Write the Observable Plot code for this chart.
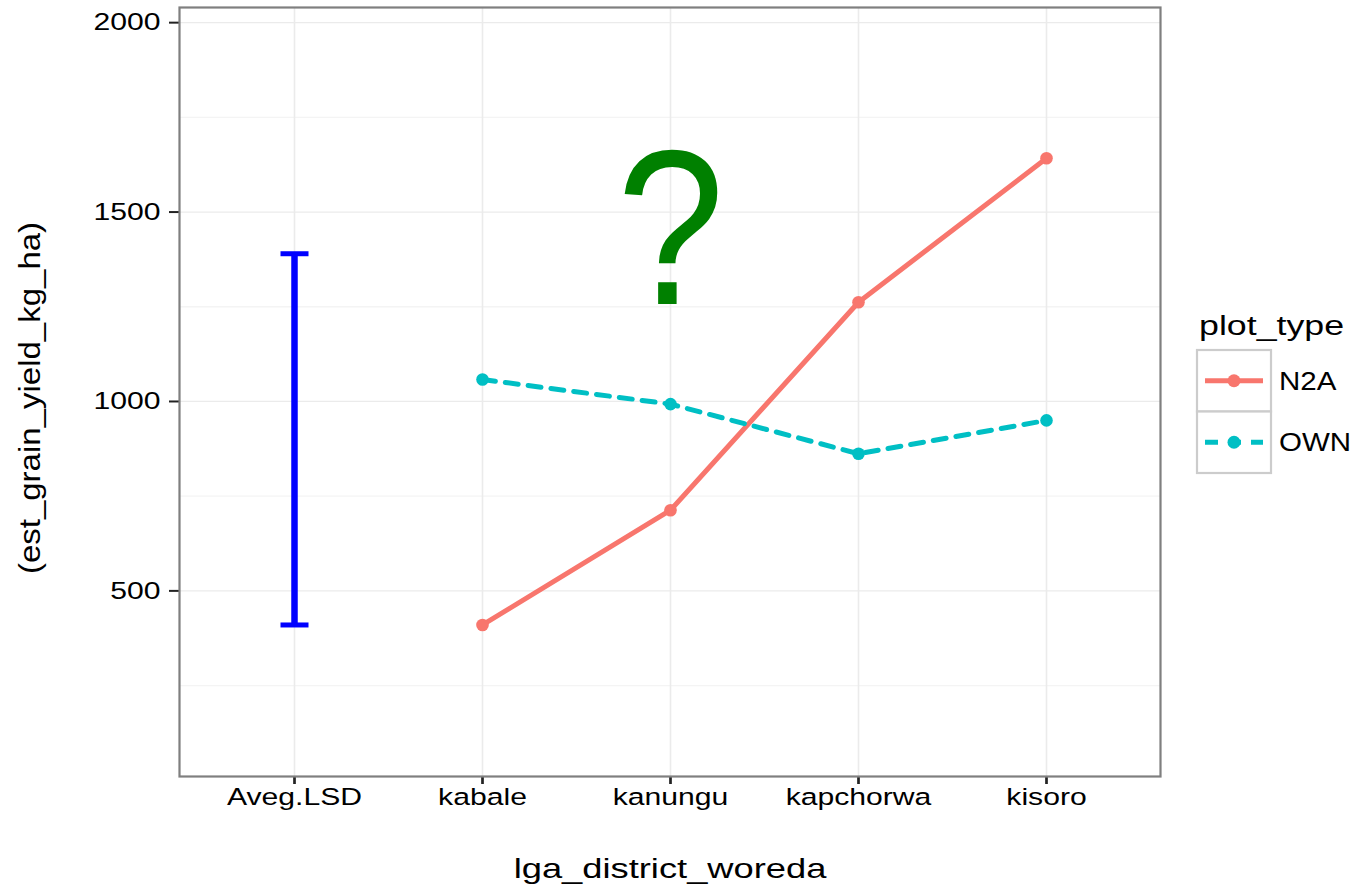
<!DOCTYPE html>
<html>
<head>
<meta charset="utf-8">
<script src="https://cdn.jsdelivr.net/npm/d3@7"></script>
<script src="https://cdn.jsdelivr.net/npm/@observablehq/plot@0.6"></script>
<style>
  html, body { margin: 0; padding: 0; background: #fff; }
  #wrap { position: relative; width: 1355px; height: 887px; font-family: "Liberation Sans", Arial, Helvetica, sans-serif; }
  #legend { position: absolute; left: 0; top: 0; }
</style>
</head>
<body>
<div id="wrap"></div>
<script>
// ---- data ----
const categories = ["Aveg.LSD", "kabale", "kanungu", "kapchorwa", "kisoro"];
const districts = ["kabale", "kanungu", "kapchorwa", "kisoro"];
const seriesNames = ["N2A", "OWN"];
const n2aValues = [410, 713, 1262, 1642];
const ownValues = [1058, 993, 862, 950];
const lsdLow = 410;
const lsdHigh = 1390;
const yTicks = [500, 1000, 1500, 2000];
const yMinorTicks = [250, 750, 1250, 1750];
const xTitle = "lga_district_woreda";
const yTitle = "(est_grain_yield_kg_ha)";
const legendTitle = "plot_type";
const annotation = "?";
const annotationX = "kanungu";
const annotationY = 1444;

const colors = {N2A: "#F8766D", OWN: "#00BFC4"};

const rows = [];
districts.forEach((d, i) => {
  rows.push({district: d, type: "N2A", value: n2aValues[i]});
  rows.push({district: d, type: "OWN", value: ownValues[i]});
});
const n2a = rows.filter(r => r.type === "N2A");
const own = rows.filter(r => r.type === "OWN");
const lsd = [{district: "Aveg.LSD", lo: lsdLow, hi: lsdHigh}];

const capSymbol = {
  draw(context, size) {
    const r = Math.sqrt(size / Math.PI);
    context.moveTo(-r, 0);
    context.lineTo(r, 0);
  }
};

const font = "'Liberation Sans', Arial, Helvetica, sans-serif";

const chart = Plot.plot({
  width: 1355,
  height: 887,
  marginLeft: 179,
  marginRight: 195,
  marginTop: 7,
  marginBottom: 111,
  style: {fontFamily: font, background: "#fff", color: "#000"},
  x: {type: "point", domain: categories, padding: 0.6},
  y: {domain: [10, 2040]},
  marks: [
    Plot.gridY(yMinorTicks, {stroke: "#f4f4f4", strokeOpacity: 1, strokeWidth: 1.3}),
    Plot.gridY(yTicks, {stroke: "#ebebeb", strokeOpacity: 1, strokeWidth: 1.3}),
    Plot.gridX(categories, {stroke: "#ebebeb", strokeOpacity: 1, strokeWidth: 1.6}),
    Plot.axisY(yTicks, {fontSize: 24.5, tickSize: 10, tickPadding: 9, strokeWidth: 2, stroke: "#222", fill: "#000", label: null, tickFormat: d3.format("d")}),
    Plot.axisX({fontSize: 24.5, tickSize: 8, tickPadding: 3, strokeWidth: 2.7, stroke: "#222", fill: "#000", label: null}),
    Plot.ruleX(lsd, {x: "district", y1: "lo", y2: "hi", stroke: "#0000ff", strokeWidth: 6.5}),
    Plot.dot(lsd, {x: "district", y: "lo", symbol: capSymbol, r: 14, stroke: "#0000ff", strokeWidth: 5, fill: "none"}),
    Plot.dot(lsd, {x: "district", y: "hi", symbol: capSymbol, r: 14, stroke: "#0000ff", strokeWidth: 5, fill: "none"}),
    Plot.line(n2a, {x: "district", y: "value", stroke: colors.N2A, strokeWidth: 5}),
    Plot.line(own, {x: "district", y: "value", stroke: colors.OWN, strokeWidth: 5, strokeDasharray: "13,10"}),
    Plot.dot(rows, {x: "district", y: "value", fill: d => colors[d.type], r: 6.3, stroke: "none"}),
    Plot.text([annotation], {x: () => annotationX, y: () => annotationY, text: d => d, fontSize: 220, fontWeight: "normal", fill: "#008000", lineAnchor: "middle"}),
    Plot.text([xTitle], {frameAnchor: "bottom", lineAnchor: "middle", dy: 93, text: d => d, fontSize: 27.5, fill: "#000"}),
    Plot.text([yTitle], {frameAnchor: "left", textAnchor: "middle", lineAnchor: "middle", dx: -149, dy: 6, rotate: -90, text: d => d, fontSize: 30, fill: "#000"}),
    Plot.frame({stroke: "#7f7f7f", strokeWidth: 2.2})
  ]
});
document.getElementById("wrap").appendChild(chart);

function stretch(selection, s) {
  selection.each(function() {
    const L = this.getComputedTextLength();
    this.setAttribute("textLength", L * s);
    this.setAttribute("lengthAdjust", "spacingAndGlyphs");
  });
}
const svg = d3.select(chart);
const byText = t => svg.selectAll("text").filter(function() { return this.textContent === t; });
stretch(svg.selectAll('g[aria-label="x-axis tick label"] text'), 1.23);
stretch(svg.selectAll('g[aria-label="y-axis tick label"] text'), 1.23);
stretch(byText(xTitle), 1.32);
stretch(byText(yTitle), 1.1);
stretch(byText(annotation), 0.88);

// ---- legend ----
const lg = d3.select("#wrap").append("svg")
  .attr("id", "legend")
  .attr("width", 1355).attr("height", 887)
  .style("font-family", font);
const lx = 1197, ly = 350, kw = 74, kh = 61.5;
lg.append("text").attr("x", lx + 2).attr("y", 335).attr("font-size", 27.5).attr("class", "lt").text(legendTitle);
seriesNames.forEach((name, i) => {
  const y0 = ly + i * kh;
  lg.append("rect").attr("x", lx).attr("y", y0).attr("width", kw).attr("height", kh)
    .attr("fill", "#fff").attr("stroke", "#cccccc").attr("stroke-width", 2.2);
  const cy = y0 + kh / 2;
  lg.append("line").attr("x1", lx + 8).attr("x2", lx + kw - 8).attr("y1", cy).attr("y2", cy)
    .attr("stroke", colors[name]).attr("stroke-width", 5)
    .attr("stroke-dasharray", name === "OWN" ? "13,10" : null);
  lg.append("circle").attr("cx", lx + kw / 2).attr("cy", cy).attr("r", 6.5).attr("fill", colors[name]);
  lg.append("text").attr("x", lx + kw + 8).attr("y", cy).attr("dy", "0.36em").attr("font-size", 25).attr("class", "ll").text(name);
});
stretch(lg.selectAll("text.lt"), 1.3);
stretch(lg.selectAll("text.ll"), 1.18);
</script>
</body>
</html>
